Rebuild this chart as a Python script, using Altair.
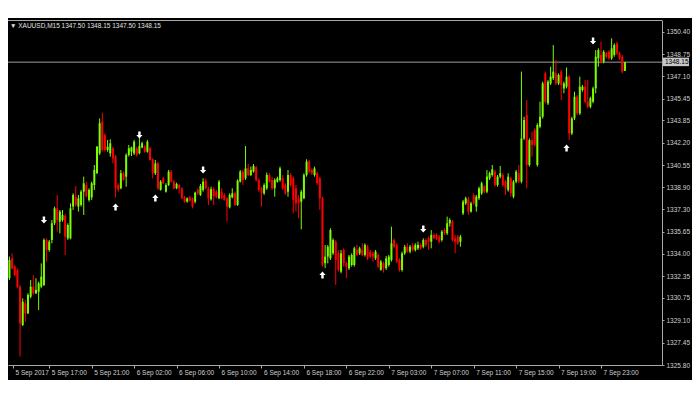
import altair as alt
import pandas as pd
import numpy as np

# ---- data (XAUUSD M15 candles, bar index 0..233) ----
bar_open = [
    1331.58, 1332.20, 1333.67, 1333.06, 1332.81, 1331.58, 1328.75, 1330.35, 1329.61, 1330.84,
    1331.58, 1331.09, 1331.21, 1331.58, 1331.70, 1335.03, 1334.29, 1335.03, 1336.26, 1337.36,
    1336.38, 1336.50, 1336.80, 1335.15, 1335.15, 1337.49, 1338.22, 1337.49, 1337.61, 1338.59,
    1339.08, 1337.98, 1338.17, 1339.08, 1339.95, 1341.42, 1343.76, 1342.77, 1341.67, 1341.42,
    1341.79, 1341.18, 1339.08, 1338.84, 1339.95, 1339.70, 1341.30, 1341.54, 1341.42, 1341.79,
    1341.42, 1341.86, 1341.91, 1341.54, 1341.79, 1340.98, 1339.95, 1340.68, 1338.72, 1339.58,
    1338.59, 1339.08, 1340.07, 1339.33, 1338.84, 1339.08, 1338.84, 1338.17, 1337.85, 1338.17,
    1338.10, 1337.85, 1338.72, 1338.35, 1338.72, 1339.40, 1338.84, 1338.03, 1338.77, 1338.59,
    1338.10, 1338.59, 1338.35, 1338.10, 1337.44, 1338.17, 1338.47, 1337.61, 1339.33, 1340.07,
    1339.58, 1340.31, 1339.82, 1340.07, 1340.39, 1339.45, 1338.84, 1338.47, 1338.84, 1339.82,
    1339.45, 1338.84, 1339.33, 1339.45, 1339.58, 1339.08, 1338.59, 1339.82, 1339.58, 1338.84,
    1338.10, 1337.85, 1338.10, 1339.82, 1340.81, 1340.19, 1339.82, 1339.95, 1339.58, 1338.10,
    1333.31, 1333.80, 1333.67, 1334.04, 1334.90, 1334.04, 1332.69, 1334.29, 1333.31, 1332.94,
    1333.18, 1333.18, 1334.29, 1334.04, 1334.29, 1333.92, 1334.53, 1334.17, 1334.04, 1333.67,
    1333.92, 1332.81, 1333.31, 1332.94, 1333.18, 1333.55, 1335.02, 1334.66, 1333.55, 1332.81,
    1334.04, 1334.53, 1334.17, 1334.58, 1334.29, 1334.41, 1334.66, 1334.53, 1335.02, 1335.15,
    1334.90, 1335.40, 1335.40, 1335.27, 1335.02, 1335.76, 1335.52, 1336.26, 1336.38, 1335.15,
    1335.27, 1334.90, 1336.99, 1337.73, 1338.03, 1337.12, 1338.35, 1337.48, 1338.10, 1338.47,
    1338.96, 1338.59, 1339.58, 1339.82, 1340.07, 1339.08, 1339.70, 1339.82, 1339.33, 1338.71,
    1339.58, 1338.22, 1339.33, 1339.95, 1339.33, 1342.52, 1344.25, 1340.56, 1342.40, 1343.14,
    1340.56, 1343.39, 1344.12, 1347.32, 1345.11, 1346.58, 1346.96, 1347.32, 1346.58, 1347.45,
    1346.21, 1346.34, 1347.08, 1342.89, 1344.00, 1345.60, 1344.37, 1346.09, 1346.34, 1345.23,
    1344.86, 1345.23, 1346.21, 1348.43, 1348.68, 1348.19, 1348.80, 1348.92, 1348.43, 1348.68,
    1349.54, 1348.80, 1348.55, 1347.50,
]
bar_high = [
    1332.69, 1333.80, 1334.04, 1333.18, 1332.93, 1331.70, 1330.72, 1330.60, 1331.09, 1332.07,
    1332.44, 1332.20, 1331.95, 1333.30, 1335.15, 1335.15, 1335.03, 1336.50, 1337.49, 1338.35,
    1337.24, 1337.24, 1336.94, 1336.26, 1337.73, 1338.47, 1339.01, 1338.35, 1338.72, 1339.70,
    1339.33, 1338.84, 1339.33, 1340.56, 1341.96, 1344.00, 1344.42, 1342.90, 1342.41, 1342.46,
    1341.91, 1341.30, 1339.21, 1340.19, 1340.07, 1341.42, 1342.04, 1341.91, 1342.41, 1341.91,
    1342.60, 1342.28, 1342.04, 1342.41, 1341.91, 1341.05, 1340.93, 1340.81, 1339.45, 1339.70,
    1339.21, 1340.19, 1340.19, 1339.45, 1339.26, 1339.16, 1338.91, 1338.27, 1338.17, 1338.27,
    1338.17, 1338.59, 1338.84, 1339.16, 1339.58, 1339.58, 1338.96, 1338.96, 1338.91, 1338.72,
    1339.45, 1338.84, 1338.47, 1338.17, 1338.47, 1338.84, 1338.59, 1339.50, 1340.19, 1340.19,
    1341.96, 1340.63, 1340.44, 1340.63, 1340.49, 1339.58, 1338.96, 1339.21, 1340.00, 1339.95,
    1339.70, 1339.58, 1339.70, 1340.44, 1339.82, 1339.21, 1340.19, 1339.95, 1339.70, 1339.08,
    1338.35, 1338.72, 1339.95, 1340.98, 1340.93, 1340.31, 1340.44, 1340.07, 1339.70, 1338.22,
    1334.66, 1334.66, 1335.89, 1335.15, 1335.02, 1334.29, 1334.29, 1334.41, 1333.43, 1333.92,
    1334.04, 1334.53, 1334.66, 1334.53, 1334.78, 1334.78, 1334.66, 1334.29, 1334.17, 1334.29,
    1334.04, 1333.55, 1333.43, 1333.85, 1333.92, 1336.01, 1335.15, 1334.78, 1333.67, 1334.17,
    1334.66, 1334.78, 1334.66, 1334.78, 1334.78, 1334.90, 1334.78, 1335.15, 1335.15, 1335.27,
    1335.76, 1335.52, 1335.52, 1335.40, 1335.76, 1335.89, 1336.75, 1336.63, 1336.50, 1335.40,
    1335.40, 1335.40, 1337.98, 1338.22, 1338.22, 1337.85, 1338.47, 1338.35, 1338.96, 1339.33,
    1339.08, 1340.19, 1340.07, 1340.56, 1340.19, 1339.82, 1340.49, 1339.95, 1339.45, 1339.95,
    1339.70, 1339.45, 1340.19, 1340.56, 1347.45, 1344.12, 1345.36, 1342.52, 1343.02, 1343.27,
    1343.64, 1345.23, 1346.71, 1347.45, 1346.83, 1347.81, 1349.41, 1348.31, 1347.32, 1347.57,
    1346.71, 1347.76, 1347.20, 1344.12, 1345.97, 1345.72, 1347.08, 1346.46, 1346.83, 1346.83,
    1345.60, 1346.34, 1349.04, 1349.17, 1349.66, 1349.04, 1348.92, 1349.04, 1349.91, 1349.54,
    1349.66, 1348.92, 1348.68, 1348.15,
]
bar_low = [
    1331.46, 1332.07, 1332.86, 1332.32, 1331.46, 1326.42, 1328.68, 1329.00, 1329.56, 1330.72,
    1330.97, 1331.04, 1329.86, 1331.46, 1331.63, 1333.43, 1334.16, 1334.78, 1336.13, 1335.64,
    1335.52, 1336.38, 1333.92, 1335.03, 1335.08, 1337.24, 1337.49, 1337.12, 1337.49, 1336.87,
    1338.17, 1337.85, 1337.98, 1338.72, 1339.90, 1341.30, 1341.54, 1341.54, 1341.54, 1341.18,
    1340.68, 1338.17, 1338.59, 1338.77, 1339.40, 1338.96, 1341.18, 1341.22, 1341.30, 1341.18,
    1341.35, 1341.79, 1341.47, 1341.47, 1340.88, 1339.58, 1339.82, 1338.72, 1338.67, 1339.16,
    1338.52, 1339.01, 1339.26, 1338.77, 1338.77, 1338.47, 1338.03, 1337.78, 1337.78, 1337.85,
    1337.36, 1337.73, 1338.35, 1338.27, 1338.59, 1338.77, 1337.61, 1337.93, 1337.61, 1338.10,
    1338.03, 1338.03, 1337.93, 1336.38, 1337.36, 1338.10, 1337.54, 1337.54, 1339.26, 1339.08,
    1339.45, 1339.75, 1339.75, 1340.00, 1339.33, 1338.59, 1337.49, 1338.35, 1338.72, 1339.26,
    1338.72, 1338.22, 1339.26, 1339.33, 1338.72, 1338.35, 1338.22, 1338.96, 1336.99, 1337.12,
    1336.62, 1335.81, 1338.03, 1339.70, 1339.95, 1339.82, 1339.70, 1339.08, 1337.24, 1333.06,
    1332.95, 1333.30, 1333.55, 1333.92, 1331.71, 1332.69, 1332.57, 1333.06, 1332.20, 1332.81,
    1333.06, 1333.06, 1333.85, 1333.92, 1333.85, 1333.80, 1333.55, 1333.67, 1333.43, 1333.55,
    1332.94, 1332.76, 1332.62, 1332.81, 1333.06, 1333.43, 1334.41, 1333.31, 1332.69, 1332.69,
    1333.92, 1334.09, 1334.04, 1334.17, 1334.17, 1334.29, 1334.29, 1334.41, 1334.53, 1334.29,
    1334.41, 1335.08, 1335.02, 1334.78, 1334.90, 1335.40, 1335.40, 1336.01, 1334.90, 1334.04,
    1334.66, 1334.53, 1336.87, 1337.61, 1336.87, 1337.04, 1337.61, 1337.12, 1337.98, 1338.35,
    1338.47, 1338.47, 1339.45, 1339.70, 1338.96, 1338.96, 1339.58, 1338.96, 1338.35, 1338.59,
    1338.22, 1338.10, 1339.21, 1339.21, 1339.21, 1342.40, 1338.84, 1340.44, 1341.18, 1341.91,
    1340.44, 1343.27, 1343.98, 1345.11, 1344.99, 1346.46, 1346.83, 1346.46, 1346.46, 1345.36,
    1345.85, 1346.21, 1342.40, 1342.77, 1343.88, 1344.25, 1344.25, 1345.97, 1345.11, 1344.74,
    1344.74, 1345.11, 1345.85, 1347.81, 1348.06, 1348.06, 1348.43, 1348.31, 1348.31, 1348.55,
    1348.68, 1348.31, 1347.32, 1347.50,
]
bar_close = [
    1332.64, 1333.55, 1332.93, 1332.44, 1331.58, 1328.88, 1330.47, 1329.61, 1330.97, 1331.58,
    1331.09, 1331.34, 1331.83, 1332.32, 1335.03, 1334.29, 1334.90, 1336.26, 1337.36, 1336.50,
    1337.12, 1336.87, 1335.27, 1336.13, 1337.36, 1338.35, 1337.61, 1338.10, 1338.59, 1339.21,
    1338.27, 1338.72, 1339.21, 1340.19, 1341.91, 1343.64, 1341.67, 1341.67, 1341.91, 1342.16,
    1341.05, 1338.84, 1338.72, 1339.95, 1339.45, 1341.30, 1341.79, 1341.86, 1342.28, 1341.30,
    1341.96, 1342.16, 1341.54, 1342.28, 1340.93, 1339.95, 1340.68, 1338.84, 1339.33, 1339.21,
    1339.08, 1340.07, 1339.33, 1338.84, 1339.16, 1338.84, 1338.10, 1337.85, 1338.10, 1337.93,
    1337.49, 1338.52, 1338.47, 1339.01, 1339.33, 1338.84, 1338.10, 1338.77, 1338.27, 1338.17,
    1339.33, 1338.10, 1337.98, 1337.49, 1338.35, 1338.47, 1337.61, 1339.40, 1340.07, 1339.45,
    1340.31, 1339.82, 1340.19, 1340.49, 1339.45, 1338.72, 1338.47, 1339.08, 1339.82, 1339.33,
    1338.84, 1339.45, 1339.58, 1340.31, 1338.84, 1338.47, 1339.82, 1339.08, 1337.98, 1337.73,
    1337.73, 1338.59, 1339.82, 1340.81, 1340.07, 1339.95, 1340.31, 1339.21, 1338.10, 1333.18,
    1333.80, 1334.53, 1335.76, 1335.02, 1333.55, 1332.81, 1334.04, 1333.31, 1333.06, 1333.80,
    1333.92, 1334.41, 1333.92, 1334.41, 1333.92, 1334.66, 1333.67, 1333.80, 1333.80, 1334.17,
    1333.06, 1333.43, 1332.94, 1333.67, 1333.80, 1334.78, 1334.53, 1333.43, 1332.81, 1334.04,
    1334.53, 1334.17, 1334.53, 1334.29, 1334.66, 1334.66, 1334.41, 1335.02, 1334.66, 1334.90,
    1335.40, 1335.15, 1335.15, 1334.90, 1335.64, 1335.52, 1336.26, 1336.50, 1335.02, 1334.90,
    1334.78, 1335.27, 1337.85, 1338.10, 1337.12, 1337.73, 1337.73, 1338.22, 1338.84, 1339.21,
    1338.59, 1339.70, 1339.95, 1340.24, 1339.08, 1339.70, 1339.95, 1339.08, 1338.84, 1339.70,
    1338.47, 1339.33, 1340.07, 1339.33, 1342.52, 1343.88, 1340.56, 1342.40, 1342.04, 1342.04,
    1343.51, 1344.12, 1346.58, 1345.23, 1346.71, 1347.08, 1347.45, 1346.58, 1347.20, 1346.46,
    1346.58, 1347.08, 1342.89, 1344.00, 1345.60, 1344.37, 1346.34, 1346.34, 1345.23, 1344.86,
    1345.48, 1346.21, 1348.55, 1349.04, 1348.19, 1348.92, 1348.55, 1348.43, 1349.17, 1349.41,
    1348.80, 1348.43, 1347.45, 1348.15,
]

tick_bars = [0, 16, 32, 48, 64, 80, 96, 112, 128, 144, 160, 176, 192, 208, 224]
tick_labels = ["5 Sep 2017", "5 Sep 17:00", "5 Sep 21:00", "6 Sep 02:00", "6 Sep 06:00",
               "6 Sep 10:00", "6 Sep 14:00", "6 Sep 18:00", "6 Sep 22:00", "7 Sep 03:00",
               "7 Sep 07:00", "7 Sep 11:00", "7 Sep 15:00", "7 Sep 19:00", "7 Sep 23:00"]
price_ticks = [1350.40, 1348.75, 1347.10, 1345.45, 1343.85, 1342.20, 1340.55, 1338.90,
               1337.30, 1335.65, 1334.00, 1332.35, 1330.75, 1329.10, 1327.45, 1325.80]

up_arrow_bars = [41, 56, 119, 211]
up_arrow_prices = [1337.46, 1338.12, 1332.44, 1341.81]
down_arrow_bars = [14, 50, 74, 157, 221]
down_arrow_prices = [1336.50, 1342.77, 1340.19, 1335.84, 1349.71]

bid_price = [1348.15]
header_text = "\u25bc XAUUSD,M15  1347.50 1348.15 1347.50 1348.15"

# ---- styling ----
GREEN = "#7CFC00"
RED = "#FF0000"
FRAME = "#a8a8a8"
LABEL = "#d0d0d0"
FONT = "Liberation Sans"
FS = 6.5
TOTAL_W = 684          # whole SVG width (page is 700 wide with 8px margins)
W, H = 654, 345
PX_PER_BAR = 2.694
X_LO = 2.34
X_HI = X_LO + W / PX_PER_BAR
Y_LO, Y_HI = 1325.80, 1351.26

n = min(len(bar_open), len(bar_high), len(bar_low), len(bar_close))
df = pd.DataFrame({
    "i": list(range(n)),
    "o": bar_open[:n], "h": bar_high[:n], "l": bar_low[:n], "c": bar_close[:n],
})
df["col"] = np.where(df["c"] >= df["o"], GREEN, RED)

xs = alt.Scale(domain=[X_LO, X_HI], nice=False, zero=False)
ys = alt.Scale(domain=[Y_LO, Y_HI], nice=False, zero=False)

label_expr = "[" + ",".join("'" + t + "'" for t in tick_labels) + "][round(datum.value/16)]"
x_axis = alt.Axis(
    orient="bottom", values=[max(v, X_LO) for v in tick_bars], labelExpr=label_expr,
    title="", grid=False, labelAlign="left", labelBaseline="top", labelOffset=2,
    labelPadding=1, labelFlush=False, labelOverlap=False, labelFont=FONT, labelFontSize=FS,
    labelColor=LABEL, tickSize=3, tickColor=FRAME, domainColor=FRAME, zindex=1,
)
y_axis = alt.Axis(
    orient="right", values=price_ticks, format=".2f", title="", grid=False,
    labelAlign="left", labelBaseline="middle", labelPadding=2, labelFlush=False,
    labelOverlap=False, labelFont=FONT, labelFontSize=FS, labelColor=LABEL,
    tickSize=2, tickColor=FRAME, domainColor=FRAME, zindex=1,
)

X = alt.X("i:Q", scale=xs, axis=x_axis)

one = alt.Data(values=[{"k": 1}])
bg = alt.Chart(one).mark_rect(color="#000000").encode(
    x=alt.value(0), x2=alt.value(TOTAL_W), y=alt.value(-2), y2=alt.value(360))
top_frame = alt.Chart(one).mark_rule(color=FRAME, strokeWidth=1).encode(
    x=alt.value(0), x2=alt.value(W), y=alt.value(0.5))

bid_df = pd.DataFrame({"p": bid_price})
bid_line = alt.Chart(bid_df).mark_rule(color="#9c9c9c", strokeWidth=1).encode(
    y=alt.Y("p:Q", scale=ys, axis=y_axis), x=alt.value(0), x2=alt.value(W))

wicks = alt.Chart(df).mark_rule(strokeWidth=1, clip=True).encode(
    x=X, y=alt.Y("l:Q", scale=ys, axis=y_axis), y2="h:Q",
    color=alt.Color("col:N", scale=None))
bodies = alt.Chart(df).mark_bar(size=2, clip=True).encode(
    x=X, y=alt.Y("o:Q", scale=ys, axis=y_axis), y2="c:Q",
    color=alt.Color("col:N", scale=None))

DOWN_PATH = "M-0.35,-1L0.35,-1L0.35,0L0.9,0L0,1L-0.9,0L-0.35,0Z"
UP_PATH = "M-0.35,1L0.35,1L0.35,0L0.9,0L0,-1L-0.9,0L-0.35,0Z"
down_df = pd.DataFrame({"i": down_arrow_bars, "p": down_arrow_prices})
up_df = pd.DataFrame({"i": up_arrow_bars, "p": up_arrow_prices})
down_arrows = alt.Chart(down_df).mark_point(
    shape=DOWN_PATH, size=49, filled=True, color="#ffffff", opacity=1, strokeWidth=0
).encode(x=X, y=alt.Y("p:Q", scale=ys, axis=y_axis))
up_arrows = alt.Chart(up_df).mark_point(
    shape=UP_PATH, size=49, filled=True, color="#ffffff", opacity=1, strokeWidth=0
).encode(x=X, y=alt.Y("p:Q", scale=ys, axis=y_axis))

bid_box = alt.Chart(bid_df).mark_rect(color="#c8c8c8", yOffset=-4.5, y2Offset=4).encode(
    x=alt.value(W), x2=alt.value(W + 27), y=alt.Y("p:Q", scale=ys, axis=y_axis), y2="p:Q")
bid_text = alt.Chart(bid_df).mark_text(
    align="left", baseline="middle", font=FONT, fontSize=FS, color="#000000"
).encode(x=alt.value(W + 3), y=alt.Y("p:Q", scale=ys, axis=y_axis),
         text=alt.Text("p:Q", format=".2f"))

header = alt.Chart(one).mark_text(
    align="left", baseline="middle", font=FONT, fontSize=FS, color="#e0e0e0"
).encode(x=alt.value(2), y=alt.value(6), text=alt.value(header_text))

chart = alt.layer(
    bg, top_frame, bid_line, wicks, bodies, down_arrows, up_arrows, bid_box, bid_text, header
).properties(
    width=W, height=H,
    padding={"left": 0, "top": 12, "right": TOTAL_W - W, "bottom": 15},
    autosize=alt.AutoSizeParams(type="none"),
    background="#ffffff",
).configure_view(strokeWidth=0)

chart.save("out.html", embed_options={"renderer": "svg", "actions": False})
